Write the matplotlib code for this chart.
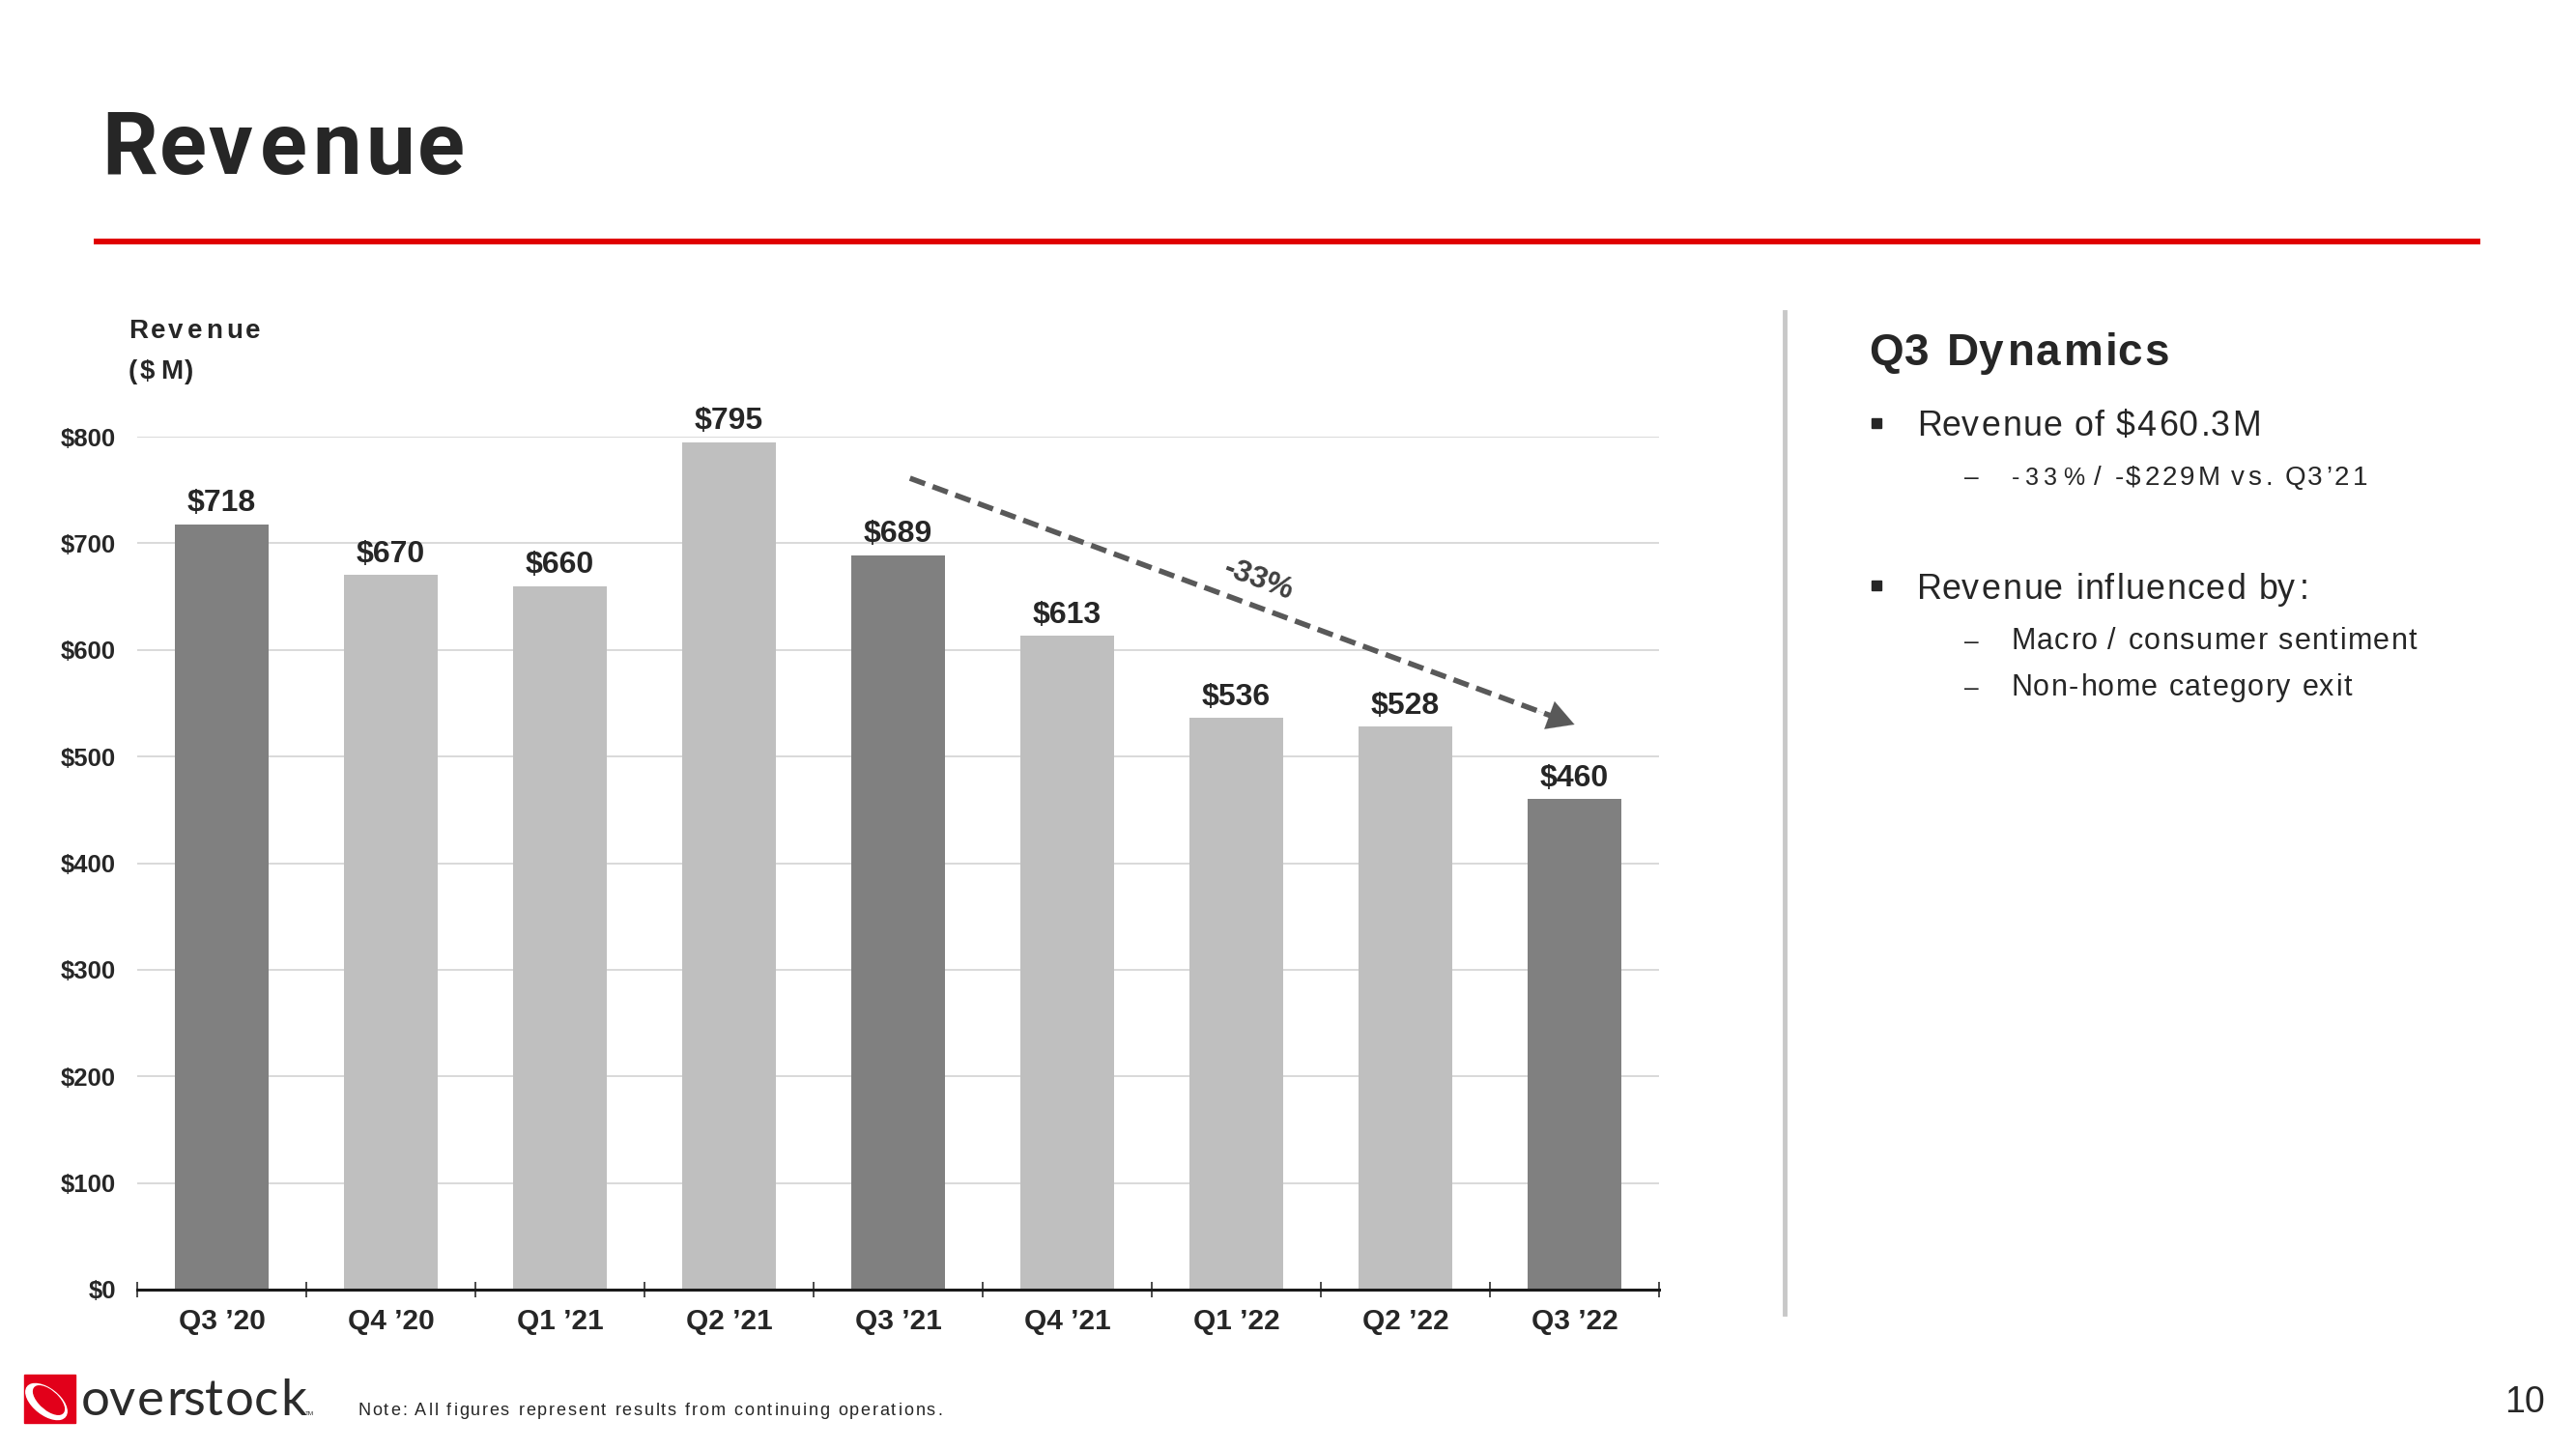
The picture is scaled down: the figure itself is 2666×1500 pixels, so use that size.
import numpy as np
import matplotlib
matplotlib.use("Agg")
import matplotlib.pyplot as plt
from matplotlib.font_manager import FontProperties, findfont, get_font
from matplotlib.patches import Rectangle, Ellipse
from matplotlib.lines import Line2D
from matplotlib.ticker import FuncFormatter

# ---------------- data ----------------
categories = ["Q3 \u201920", "Q4 \u201920", "Q1 \u201921", "Q2 \u201921", "Q3 \u201921",
              "Q4 \u201921", "Q1 \u201922", "Q2 \u201922", "Q3 \u201922"]
revenue = [718, 670, 660, 795, 689, 613, 536, 528, 460]
y_ticks = [0, 100, 200, 300, 400, 500, 600, 700, 800]

title = "Revenue"
axis_title = ["Revenue", "($M)"]
panel_title = "Q3 Dynamics"
bullet_1 = "Revenue of $460.3M"
bullet_1_sub = ["-33%", "/ -$229M vs. Q3\u201921"]
bullet_2 = "Revenue influenced by:"
bullet_2_subs = ["Macro / consumer sentiment", "Non-home category exit"]
note = "Note: All figures represent results from continuing operations."
page_no = "10"

# ---------------- setup ----------------
W, H, DPI = 2666, 1500, 100
TXT = "#262626"
DARK_BAR = "#808080"
LIGHT_BAR = "#BFBFBF"


def has_font(name):
    try:
        findfont(FontProperties(family=name), fallback_to_default=False)
        return True
    except Exception:
        return False


BASE = "Liberation Sans"
NARROW = "Liberation Sans Narrow" if has_font("Liberation Sans Narrow") else BASE
TITLE_FONT = NARROW if NARROW != BASE else ("Roboto" if has_font("Roboto") else BASE)
LOGO = "Lato" if has_font("Lato") else BASE

fig = plt.figure(figsize=(W / DPI, H / DPI), dpi=DPI)
fig.patch.set_facecolor("white")


def _measure(s, family, weight, size):
    fp = FontProperties(family=family, weight=weight, size=size)
    font = get_font(findfont(fp))
    font.set_size(size, DPI)
    glyphs = [font.load_char(ord(c)) for c in s]
    adv = [g.linearHoriAdvance / 65536 for g in glyphs]
    bear = [g.horiBearingX / 64 for g in glyphs]
    return fp, adv, bear


def spaced(x, y, s, size, target_w=None, spacing=0.0, weight="normal",
           color=TXT, family=NARROW, min_sp=0.04):
    """Draw text with letter spacing; x,y in pixels (top-left origin), y=baseline."""
    fp, adv, bear = _measure(s, family, weight, size)
    n = len(s)
    if target_w is not None and n > 1:
        em = size * DPI / 72
        natural = sum(adv) - bear[0]
        spacing = (target_w - natural) / (n - 1)
        if spacing < min_sp * em:
            f = target_w / (natural + min_sp * em * (n - 1))
            size = size * f
            fp, adv, bear = _measure(s, family, weight, size)
            natural = sum(adv) - bear[0]
            spacing = (target_w - natural) / (n - 1)
    cx = x - bear[0]
    for c, a, b in zip(s, adv, bear):
        if c != " ":
            fig.text((cx + b) / W, 1 - y / H, c, fontproperties=fp, color=color,
                     ha="left", va="baseline")
        cx += a + spacing


# ---------------- header ----------------
spaced(105, 180, title, 72, target_w=373, weight="bold", family=TITLE_FONT, min_sp=0.05)
fig.add_artist(Line2D([100 / W, 2564 / W], [1 - 250 / H] * 2, color="#E00000", lw=4.3))

# ---------------- chart ----------------
ax_l, ax_r, ax_b, ax_t = 142, 1717, 1335, 452
ax = fig.add_axes([ax_l / W, 1 - ax_b / H, (ax_r - ax_l) / W, (ax_b - ax_t) / H])
x = np.arange(len(categories))
colors = [DARK_BAR if c.startswith("Q3") else LIGHT_BAR for c in categories]
ax.bar(x, revenue, width=0.554, color=colors, zorder=3)
ax.set_xlim(-0.5, len(categories) - 0.5)
ax.set_ylim(0, 800)
ax.set_yticks(y_ticks)
ax.yaxis.set_major_formatter(FuncFormatter(lambda v, p: f"${v:.0f}"))
ax.yaxis.grid(True, color="#CFCFCF", lw=1.1)
ax.set_axisbelow(True)
for s in ["top", "right", "left"]:
    ax.spines[s].set_visible(False)
ax.spines["bottom"].set_color("#1a1a1a")
ax.spines["bottom"].set_linewidth(2.2)
ax.spines["bottom"].set_zorder(5)
ax.tick_params(axis="y", length=0, pad=16, labelsize=18.5, labelcolor=TXT)
for lab in ax.get_yticklabels():
    lab.set_fontweight("bold")
    lab.set_family(BASE)

ax.set_xticks(np.arange(-0.5, len(categories), 1.0))
ax.set_xticklabels([])
ax.tick_params(axis="x", which="major", direction="inout", length=11.5, width=1.1, color="#1a1a1a")
ax.set_xticks(x, minor=True)
ax.set_xticklabels(categories, minor=True, fontsize=21.5, fontweight="bold",
                   color=TXT, family=BASE)
ax.tick_params(axis="x", which="minor", length=0, pad=14)

for i, v in enumerate(revenue):
    ax.annotate(f"${v}", (i, v), xytext=(0, 9.4), textcoords="offset points",
                ha="center", va="baseline", fontsize=23, fontweight="bold",
                color=TXT, family=BASE)

# trend arrow between Q3'21 and Q3'22
ARROW = "#595959"
i0, i1 = categories.index("Q3 \u201921"), categories.index("Q3 \u201922")
start = np.array([i0 + 0.07, revenue[i0] + 72])
end = np.array([i1 + 0.0, revenue[i1] + 70])
neck = start + (end - start) * 0.965
ax.plot([start[0], neck[0]], [start[1], neck[1]], color=ARROW, lw=4,
        linestyle=(0, (3, 1.5)), solid_capstyle="butt", dash_capstyle="butt",
        zorder=6, clip_on=False)
ax.annotate("", xy=tuple(end), xytext=tuple(start + (end - start) * 0.93),
            arrowprops=dict(arrowstyle="-|>,head_length=0.9,head_width=0.5",
                            lw=0.1, color=ARROW, shrinkA=0, shrinkB=0,
                            mutation_scale=22),
            annotation_clip=False, zorder=6)
pct = round((revenue[i1] - revenue[i0]) / revenue[i0] * 100)
ax.text(6.13, 665, f"{pct}%", rotation=-20.4, ha="center", va="center",
        rotation_mode="anchor", fontsize=23, fontweight="bold", color="#404040", family=BASE)

# axis title
spaced(133, 350, axis_title[0], 20, target_w=135, weight="bold")
spaced(133, 392, axis_title[1], 20, target_w=67, weight="bold")

# ---------------- right panel ----------------
fig.add_artist(Line2D([1847 / W] * 2, [1 - 323 / H, 1 - 1360 / H], color="#C8C8C8", lw=3.5))
spaced(1934, 378, panel_title, 33, target_w=309, weight="bold")


def bullet_square(y_top):
    fig.add_artist(Rectangle((1937 / W, 1 - (y_top + 10) / H), 10 / W, 10 / H,
                             transform=fig.transFigure, color=TXT))


bullet_square(433)
spaced(1984, 451, bullet_1, 26, target_w=353)
spaced(2033, 502, "\u2013", 19)
spaced(2082, 502, bullet_1_sub[0], 18, target_w=74)
spaced(2167, 502, bullet_1_sub[1], 20, target_w=281, min_sp=0.0)

bullet_square(601)
spaced(1984, 620, bullet_2, 26, target_w=402)
for txt, yy, ww in zip(bullet_2_subs, [672, 720], [418, 351]):
    spaced(2033, yy, "\u2013", 19)
    spaced(2082, yy, txt, 22, target_w=ww)

# ---------------- footer ----------------
fig.add_artist(Rectangle((25 / W, 1 - 1473 / H), 53 / W, 50 / H,
                         transform=fig.transFigure, color="#E2001A"))
fig.add_artist(Ellipse((48 / W, 1 - 1451 / H), 33 / W, 40 / H, angle=25,
                       transform=fig.transFigure, color="white"))
fig.add_artist(Ellipse((50.5 / W, 1 - 1449.5 / H), 23 / W, 32 / H, angle=25,
                       transform=fig.transFigure, color="#E2001A"))
spaced(84, 1465, "overstock", 38, target_w=229, color="#2b2b2b", family=LOGO, min_sp=0.0)
fig.text(316 / W, 1 - 1465 / H, "TM", fontsize=4.5, color="#2b2b2b", ha="left",
         va="baseline", family=BASE)
spaced(371, 1465, note, 13, target_w=603)
fig.text(2592 / W, 1 - 1462 / H, page_no, fontsize=27, color=TXT, ha="left",
         va="baseline", family=BASE)

fig.savefig("out.png", dpi=DPI, facecolor="white")
